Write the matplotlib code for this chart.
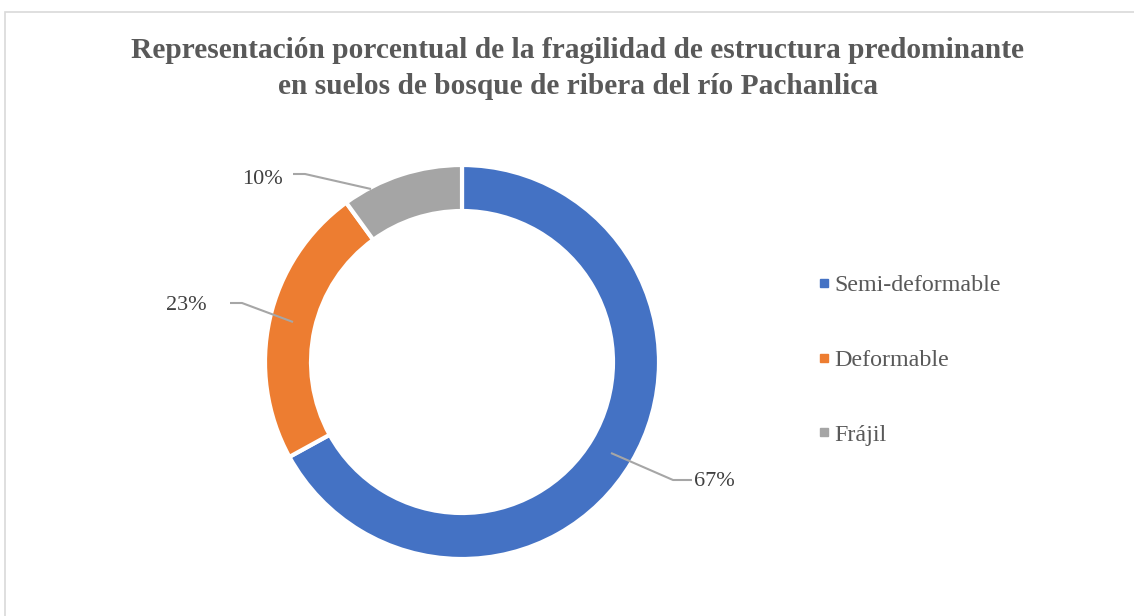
import matplotlib
matplotlib.use("Agg")
import matplotlib.pyplot as plt
from matplotlib.patches import Rectangle
from matplotlib.lines import Line2D

# Data
categories = ["Semi-deformable", "Deformable", "Frájil"]
percentages = [67, 23, 10]
colors = ["#4472C4", "#ED7D31", "#A5A5A5"]

W, H = 1134, 616
fig = plt.figure(figsize=(W / 100, H / 100), dpi=100)
ax = fig.add_axes([0, 0, 1, 1])

# pixel-like coordinate system (y up)
cx, cy = 462, H - 362
R = 197
ring = 46

wedges, _ = ax.pie(
    percentages, colors=colors, startangle=90, counterclock=False,
    radius=R, center=(cx, cy),
    wedgeprops=dict(width=ring, edgecolor="white", linewidth=3),
)
ax.set_xlim(0, W)
ax.set_ylim(0, H)
ax.set_aspect("equal")
ax.axis("off")

# chart frame
ax.add_patch(Rectangle((4.5, -20), W + 20, H - 11.5 + 20, fill=False,
                       edgecolor="#D9D9D9", linewidth=1.2, zorder=0))

serif = "Liberation Serif"

# title
ax.text(577.5, H - 50, "Representación porcentual de la fragilidad de estructura predominante",
        ha="center", va="center", fontsize=21.2, fontweight="bold",
        color="#595959", family=serif)
ax.text(577.5, H - 86, "en suelos de bosque de ribera del río Pachanlica",
        ha="center", va="center", fontsize=21.2, fontweight="bold",
        color="#595959", family=serif)

# data labels with leader lines (label pos, elbow, anchor on ring)
label_layout = [
    ((714, 482), [(692, 480), (673, 480), (611, 453)]),
    ((186, 305), [(230, 303), (242, 303), (293, 322)]),
    ((262, 179), [(293, 174), (305, 174), (371, 189)]),
]
for pct, (lpos, pts) in zip(percentages, label_layout):
    xs = [p[0] for p in pts]
    ys = [H - p[1] for p in pts]
    ax.plot(xs, ys, color="#A6A6A6", linewidth=1.5, solid_capstyle="butt", zorder=5)
    ax.text(lpos[0], H - lpos[1], f"{pct}%", ha="center", va="center",
            fontsize=16, color="#404040", family=serif, zorder=6)

# legend
handles = [Line2D([], [], linestyle="none", marker="s", markersize=6,
                  markerfacecolor=c, markeredgecolor=c) for c in colors]
leg = ax.legend(handles, categories, loc="upper left",
                bbox_to_anchor=(798 / W, 1 - 253 / H), frameon=False,
                prop=dict(family=serif, size=17.3), labelcolor="#595959",
                handlelength=0.35, handletextpad=0.25, labelspacing=2.2)

fig.savefig("out.png", dpi=100, facecolor="white")
